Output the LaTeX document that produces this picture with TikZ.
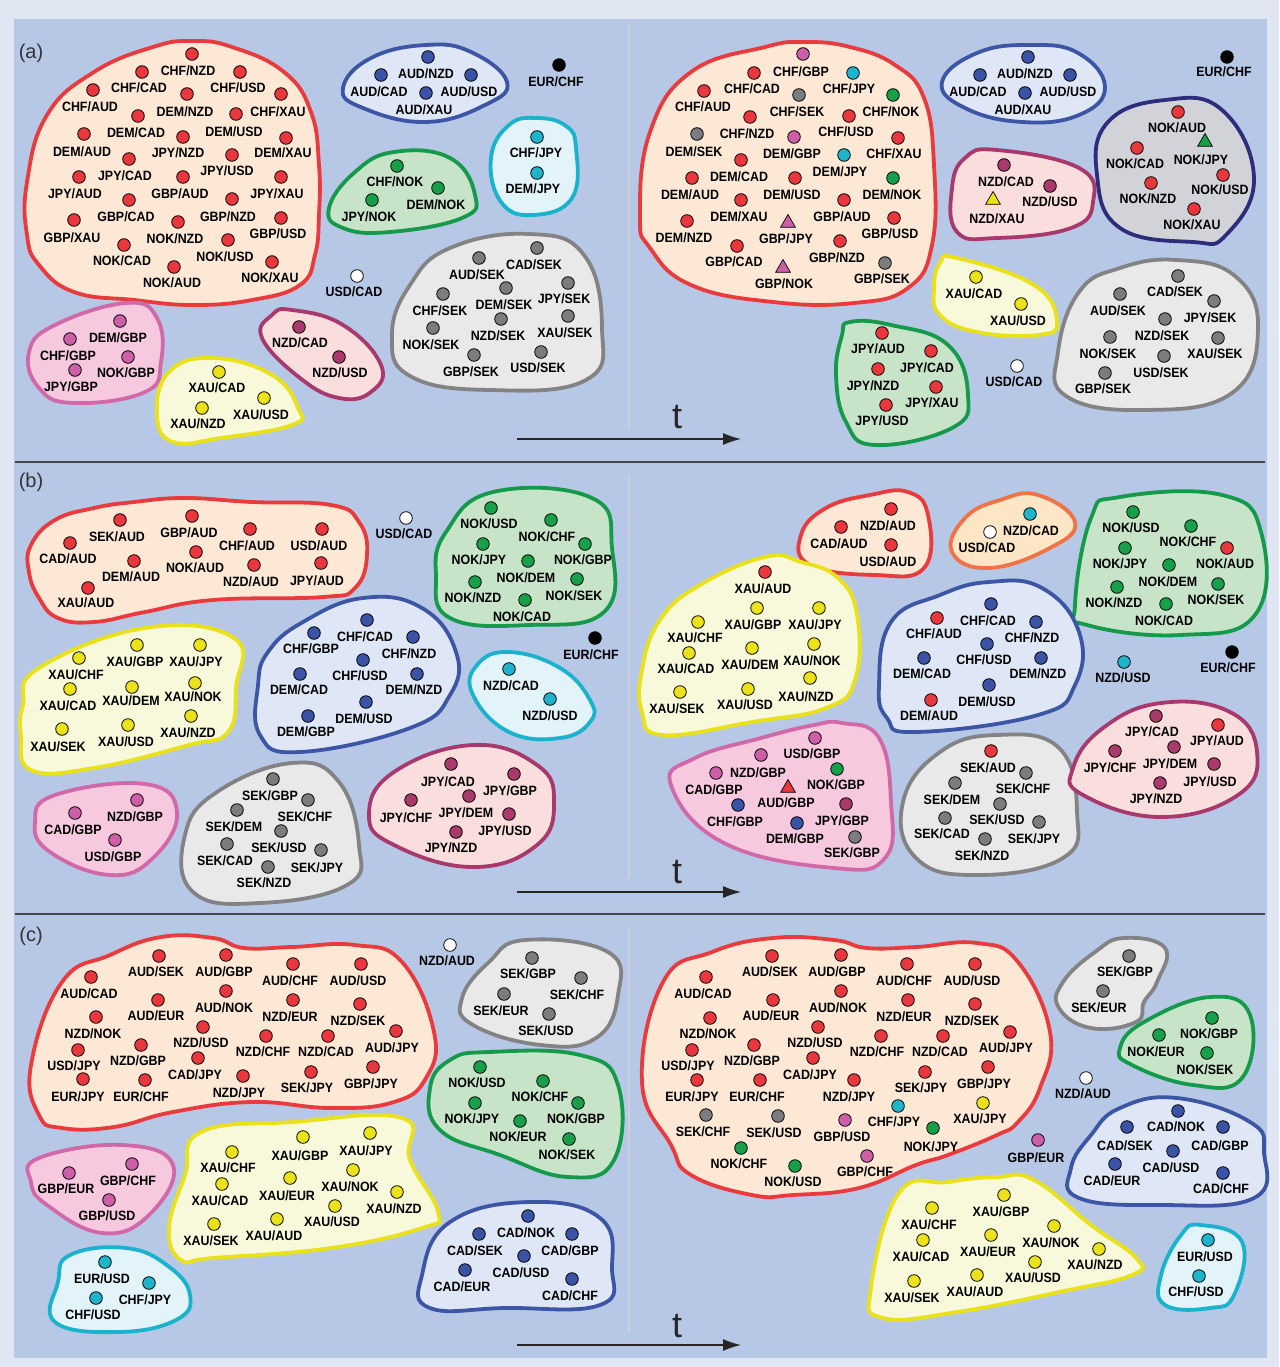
\documentclass[tikz,border=0pt]{standalone}
\usepackage{fontspec}
\setmainfont{Liberation Sans}
\newfontfamily\labfont[FakeStretch=0.92]{Liberation Sans}
\usetikzlibrary{shapes.geometric,arrows.meta}
\definecolor{cR}{HTML}{E8383D}
\definecolor{cB}{HTML}{3A53A4}
\definecolor{cC}{HTML}{1EB4CC}
\definecolor{cG}{HTML}{17A049}
\definecolor{cK}{HTML}{7B7C7E}
\definecolor{cP}{HTML}{CC5FA8}
\definecolor{cM}{HTML}{A83A6C}
\definecolor{cY}{HTML}{ECE21C}
\definecolor{sR}{HTML}{E93A3D}\definecolor{fR}{HTML}{FDE8D6}
\definecolor{sB}{HTML}{3D55A5}\definecolor{fB}{HTML}{DFE7F6}
\definecolor{sC}{HTML}{1AB2CC}\definecolor{fC}{HTML}{E2F3F9}
\definecolor{sG}{HTML}{15994A}\definecolor{fG}{HTML}{C7E4C9}
\definecolor{sK}{HTML}{838385}\definecolor{fK}{HTML}{E9E9E9}
\definecolor{sP}{HTML}{D169A9}\definecolor{fP}{HTML}{F7C9DF}
\definecolor{sY}{HTML}{E9E21A}\definecolor{fY}{HTML}{F8F8DA}
\definecolor{sM}{HTML}{A7396C}\definecolor{fM}{HTML}{FADEDE}
\definecolor{sN}{HTML}{2E2D7B}\definecolor{fN}{HTML}{D2D3D8}
\definecolor{sO}{HTML}{F07345}\definecolor{fO}{HTML}{FDE6C6}
\definecolor{bgblue}{HTML}{B7C8E7}
\definecolor{bgout}{HTML}{E0E7F3}
\definecolor{sepc}{HTML}{45454F}
\definecolor{vlc}{HTML}{CDD2DA}
\newcounter{nd}
\tikzset{
 pdot/.style={circle,draw=black,line width=0.8pt,minimum size=12.6pt,inner sep=0pt},
 ptri/.style={regular polygon,regular polygon sides=3,draw=black,line width=0.7pt,minimum size=17pt,inner sep=0pt},
 plab/.style={font=\labfont\bfseries\fontsize{13.5}{14}\selectfont,inner sep=0pt,text=black},
 blob/.style 2 args={draw=#1,fill=#2,line width=3.8pt},
 panel/.style={font=\fontsize{20}{22}\selectfont,text=black!80,inner sep=0pt},
 tlab/.style={font=\fontsize{36}{38}\selectfont,text=black!85,inner sep=0pt},
 tarrow/.style={draw=black!85,line width=1.3pt,-{Latex[length=18pt,width=12pt]}},
 sepline/.style={draw=sepc,line width=1.6pt},
 vline/.style={draw=vlc,line width=1.8pt},
}
\newcommand\blobat[3]{\draw[blob={#1}{#2}] plot[smooth cycle,tension=0.75] coordinates {#3};}
\newcommand\dotlist[2]{\foreach \xx/\yy in {#2}{\stepcounter{nd}\node[pdot,fill=#1] (n\arabic{nd}) at (\xx,\yy) {};}}
\newcommand\lablist[1]{\foreach \xx/\yy/\aa/\bb in {#1}{\stepcounter{nd}\node[plab] (n\arabic{nd}) at (\xx,\yy) {\aa/\bb};}}
\newcommand\triat[2]{\stepcounter{nd}\node[ptri,fill=#1] (n\arabic{nd}) at (#2) {};}
\begin{document}
\begin{tikzpicture}[x=1pt,y=-1pt]
\useasboundingbox (0,0) rectangle (1279,1367);
\fill[bgout] (0,0) rectangle (1279,1367);
\fill[bgblue] (14,19) rectangle (1267,1358);
% separators and vertical lines
\coordinate (s1a) at (15,462); \coordinate (s1b) at (1265,462);
\coordinate (s2a) at (15,914); \coordinate (s2b) at (1265,914);
\draw[sepline] (s1a) -- (s1b);
\draw[sepline] (s2a) -- (s2b);
\coordinate (v1a) at (629,23); \coordinate (v1b) at (629,427);
\coordinate (v2a) at (629,477); \coordinate (v2b) at (629,878);
\coordinate (v3a) at (629,928); \coordinate (v3b) at (629,1332);
\draw[vline] (v1a) -- (v1b);
\draw[vline] (v2a) -- (v2b);
\draw[vline] (v3a) -- (v3b);
\node[panel] (pa) at (31,53) {(a)};
\node[panel] (pb) at (31,482) {(b)};
\node[panel] (pc) at (31,936) {(c)};
% time arrows
\node[tlab] (ta) at (677,417) {t};
\coordinate (ta0) at (517,439); \coordinate (ta1) at (741,439);
\draw[tarrow] (ta0) -- (ta1);
\node[tlab] (tb) at (677,872) {t};
\coordinate (tb0) at (517,892); \coordinate (tb1) at (741,892);
\draw[tarrow] (tb0) -- (tb1);
\node[tlab] (tc) at (677,1326) {t};
\coordinate (tc0) at (517,1345); \coordinate (tc1) at (741,1345);
\draw[tarrow] (tc0) -- (tc1);

%%%%%%%%%%%%%%%% PANEL (a) LEFT
\blobat{sR}{fR}{(27,182) (47,115) (94,72) (153,47) (192,41) (232,47) (284,72) (311,112) (319,165) (319,215) (315,255) (300,285) (252,300) (193,305) (134,300) (74,292) (39,265) (27,235)}
\blobat{sB}{fB}{(426,45) (471,52) (507,82) (485,105) (426,122) (363,108) (343,88) (371,58)}
\blobat{sC}{fC}{(537,118) (566,126) (576,148) (572,198) (533,215) (501,202) (491,158) (509,125)}
\blobat{sG}{fG}{(394,152) (450,158) (475,195) (462,218) (390,232) (343,228) (329,208) (355,172)}
\blobat{sK}{fK}{(450,248) (529,234) (584,255) (602,328) (586,380) (489,390) (410,376) (392,335) (410,285)}
\blobat{sP}{fP}{(126,303) (157,318) (161,362) (145,392) (74,403) (39,388) (29,352) (55,325)}
\blobat{sY}{fY}{(213,358) (272,375) (298,408) (292,425) (221,438) (173,442) (157,415) (169,372)}
\blobat{sM}{fM}{(292,310) (343,325) (381,365) (371,392) (339,398) (300,378) (262,338) (272,315)}
\dotlist{cR}{192/54,142/72,240/72,93/90,187/94,281/94,138/116,236/114,84/134,183/137,286/138,129/159,232/155,79/177,183/177,281/177,129/200,232/199,74/220,178/222,281/218,124/245,228/240,174/267,272/262}
\lablist{188/71/CHF/NZD,139/88/CHF/CAD,238/88/CHF/USD,90/107/CHF/AUD,185/112/DEM/NZD,278/112/CHF/XAU,136/133/DEM/CAD,234/132/DEM/USD,82/152/DEM/AUD,178/153/JPY/NZD,283/153/DEM/XAU,125/176/JPY/CAD,227/171/JPY/USD,75/194/JPY/AUD,180/194/GBP/AUD,277/194/JPY/XAU,126/217/GBP/CAD,228/217/GBP/NZD,72/238/GBP/XAU,175/239/NOK/NZD,278/234/GBP/USD,122/261/NOK/CAD,225/257/NOK/USD,172/283/NOK/AUD,270/278/NOK/XAU}
\dotlist{cB}{428/57,381/75,471/75,426/93}
\lablist{426/74/AUD/NZD,379/92/AUD/CAD,469/92/AUD/USD,424/110/AUD/XAU}
\dotlist{black}{559/65}
\lablist{556/82/EUR/CHF}
\dotlist{cC}{537/137,537/173}
\lablist{536/153/CHF/JPY,533/189/DEM/JPY}
\dotlist{cG}{397/166,438/188,372/200}
\lablist{395/182/CHF/NOK,436/205/DEM/NOK,369/217/JPY/NOK}
\dotlist{cK}{479/258,537/248,568/283,443/294,506/288,568/316,433/328,501/319,474/355,541/352}
\lablist{477/275/AUD/SEK,534/265/CAD/SEK,504/305/DEM/SEK,564/299/JPY/SEK,440/311/CHF/SEK,498/336/NZD/SEK,565/333/XAU/SEK,431/345/NOK/SEK,471/372/GBP/SEK,538/368/USD/SEK}
\dotlist{white}{357/276}
\lablist{354/292/USD/CAD}
\dotlist{cP}{120/321,70/339,128/357,75/370}
\lablist{118/338/DEM/GBP,68/356/CHF/GBP,126/373/NOK/GBP,71/387/JPY/GBP}
\dotlist{cY}{219/372,264/398,202/408}
\lablist{217/388/XAU/CAD,261/415/XAU/USD,198/424/XAU/NZD}
\dotlist{cM}{299/327,339/357}
\lablist{300/343/NZD/CAD,340/373/NZD/USD}

%%%%%%%%%%%%%%%% PANEL (a) RIGHT
\blobat{sR}{fR}{(805,42) (850,47) (895,65) (924,98) (934,165) (932,245) (908,288) (854,303) (773,302) (691,285) (650,248) (640,215) (650,132) (691,72) (765,47)}
\blobat{sB}{fB}{(1030,45) (1078,53) (1105,87) (1079,115) (1022,122) (965,108) (942,82) (977,53)}
\blobat{sM}{fM}{(997,150) (1079,168) (1093,202) (1071,228) (997,238) (957,232) (952,188) (965,158)}
\blobat{sN}{fN}{(1165,100) (1222,110) (1254,178) (1226,235) (1193,242) (1120,228) (1097,175) (1108,122)}
\blobat{sY}{fY}{(957,258) (1034,285) (1057,322) (1038,335) (977,332) (940,315) (934,288) (940,263)}
\blobat{sK}{fK}{(1177,260) (1235,276) (1258,328) (1232,393) (1144,410) (1066,396) (1058,352) (1079,292) (1120,268)}
\blobat{sG}{fG}{(850,322) (891,325) (948,345) (968,395) (952,428) (875,445) (846,422) (836,375) (842,335)}
\dotlist{cR}{754/73,704/91,750/117,849/116,898/138,741/160,692/178,795/178,741/200,844/200,687/221,894/218,737/246,840/241}
\dotlist{cP}{803/54,794/137}
\dotlist{cC}{853/73,844/155}
\dotlist{cK}{799/95,697/134,885/263}
\dotlist{cG}{893/95,893/178}
\triat{cP}{788,223}
\triat{cP}{783,268}
\lablist{801/72/CHF/GBP,752/89/CHF/CAD,849/89/CHF/JPY,703/107/CHF/AUD,797/112/CHF/SEK,891/112/CHF/NOK,747/134/CHF/NZD,846/132/CHF/USD,694/152/DEM/SEK,792/154/DEM/GBP,894/154/CHF/XAU,739/177/DEM/CAD,840/172/DEM/JPY,690/195/DEM/AUD,792/195/DEM/USD,892/195/DEM/NOK,739/217/DEM/XAU,842/217/GBP/AUD,684/238/DEM/NZD,786/239/GBP/JPY,890/234/GBP/USD,734/262/GBP/CAD,837/258/GBP/NZD,784/284/GBP/NOK,882/279/GBP/SEK}
\dotlist{cB}{1028/57,980/75,1070/75,1025/93}
\lablist{1025/74/AUD/NZD,978/92/AUD/CAD,1068/92/AUD/USD,1023/110/AUD/XAU}
\dotlist{black}{1227/57}
\lablist{1224/72/EUR/CHF}
\dotlist{cM}{1004/165,1050/186}
\triat{cY}{993,200}
\lablist{1006/182/NZD/CAD,1050/202/NZD/USD,997/219/NZD/XAU}
\dotlist{cR}{1178/112,1137/148,1223/175,1151/183,1194/209}
\triat{cG}{1205,142}
\lablist{1177/128/NOK/AUD,1135/164/NOK/CAD,1201/160/NOK/JPY,1220/190/NOK/USD,1148/199/NOK/NZD,1192/225/NOK/XAU}
\dotlist{cY}{976/277,1021/304}
\lablist{974/294/XAU/CAD,1018/321/XAU/USD}
\dotlist{cK}{1178/276,1120/294,1214/301,1165/319,1110/337,1218/338,1164/356,1105/373}
\lablist{1175/292/CAD/SEK,1118/311/AUD/SEK,1210/318/JPY/SEK,1162/336/NZD/SEK,1108/354/NOK/SEK,1215/354/XAU/SEK,1161/373/USD/SEK,1103/389/GBP/SEK}
\dotlist{cR}{882/333,931/351,878/369,936/387,886/405}
\lablist{878/349/JPY/AUD,927/368/JPY/CAD,873/386/JPY/NZD,932/403/JPY/XAU,882/421/JPY/USD}
\dotlist{white}{1017/366}
\lablist{1014/382/USD/CAD}

%%%%%%%%%%%%%%%% PANEL (b) LEFT
\blobat{sR}{fR}{(31,545) (55,520) (94,508) (134,502) (185,498) (252,502) (331,505) (359,522) (367,555) (355,588) (323,597) (213,600) (145,612) (94,622) (58,618) (39,598) (29,572)}
\blobat{sG}{fG}{(493,492) (592,498) (612,548) (604,612) (529,625) (450,618) (436,575) (446,532)}
\blobat{sB}{fB}{(363,598) (422,608) (456,652) (450,695) (410,728) (300,752) (260,735) (258,685) (268,652) (303,622)}
\blobat{sC}{fC}{(509,652) (560,668) (590,700) (590,722) (560,738) (509,732) (473,695) (477,665)}
\blobat{sY}{fY}{(39,668) (145,628) (234,638) (236,688) (228,732) (189,745) (94,768) (31,770) (21,735) (23,705)}
\blobat{sP}{fP}{(55,795) (145,784) (177,812) (153,858) (110,875) (50,852) (35,822)}
\blobat{sK}{fK}{(292,763) (339,782) (359,845) (347,885) (260,903) (193,892) (185,835) (217,792)}
\blobat{sM}{fM}{(473,745) (537,765) (554,802) (537,845) (473,867) (394,845) (369,815) (394,772)}
\dotlist{cR}{120/520,192/516,250/529,322/529,70/543,134/561,196/552,254/565,321/563,88/588}
\lablist{117/537/SEK/AUD,189/533/GBP/AUD,247/546/CHF/AUD,319/546/USD/AUD,68/559/CAD/AUD,131/577/DEM/AUD,195/568/NOK/AUD,251/582/NZD/AUD,317/581/JPY/AUD,86/603/XAU/AUD}
\dotlist{white}{406/518}
\lablist{404/534/USD/CAD}
\dotlist{cG}{491/508,551/520,483/544,585/544,528/561,475/582,577/579,525/600}
\lablist{489/524/NOK/USD,547/537/NOK/CHF,479/560/NOK/JPY,583/560/NOK/GBP,526/578/NOK/DEM,473/598/NOK/NZD,574/596/NOK/SEK,522/617/NOK/CAD}
\dotlist{black}{595/638}
\lablist{591/655/EUR/CHF}
\dotlist{cB}{367/620,314/633,413/637,363/660,300/674,417/674,366/702,308/716}
\lablist{365/637/CHF/CAD,311/649/CHF/GBP,409/654/CHF/NZD,360/676/CHF/USD,299/690/DEM/CAD,414/690/DEM/NZD,364/719/DEM/USD,306/732/DEM/GBP}
\dotlist{cC}{509/669,550/699}
\lablist{511/686/NZD/CAD,550/716/NZD/USD}
\dotlist{cY}{137/645,200/645,79/658,70/689,132/687,195/683,62/729,128/725,191/716}
\lablist{135/662/XAU/GBP,196/662/XAU/JPY,76/675/XAU/CHF,68/706/XAU/CAD,131/701/XAU/DEM,193/697/XAU/NOK,58/747/XAU/SEK,126/742/XAU/USD,188/733/XAU/NZD}
\dotlist{cP}{137/800,75/813,115/840}
\lablist{135/817/NZD/GBP,73/830/CAD/GBP,113/857/USD/GBP}
\dotlist{cK}{273/779,308/800,237/810,281/831,227/844,321/850,268/867}
\lablist{270/796/SEK/GBP,305/817/SEK/CHF,234/827/SEK/DEM,279/848/SEK/USD,225/861/SEK/CAD,317/868/SEK/JPY,264/883/SEK/NZD}
\dotlist{cM}{451/764,514/774,469/796,411/800,509/814,456/832}
\lablist{448/782/JPY/CAD,510/791/JPY/GBP,466/813/JPY/DEM,406/818/JPY/CHF,505/831/JPY/USD,451/848/JPY/NZD}

%%%%%%%%%%%%%%%% PANEL (b) RIGHT
\blobat{sR}{fR}{(908,492) (928,515) (924,568) (875,575) (810,565) (801,535) (826,508) (870,495)}
\blobat{sO}{fO}{(1038,495) (1075,522) (1050,548) (989,568) (952,552) (965,518) (1000,500)}
\blobat{sG}{fG}{(1120,497) (1222,495) (1261,532) (1255,615) (1181,635) (1087,625) (1075,605) (1091,518)}
\blobat{sY}{fY}{(765,557) (801,562) (838,578) (857,615) (855,680) (826,708) (752,722) (663,735) (642,712) (642,670) (660,620) (700,585)}
\blobat{sB}{fB}{(989,582) (1042,588) (1079,632) (1075,685) (1038,715) (916,732) (887,718) (879,685) (891,622) (940,595)}
\blobat{sP}{fP}{(814,725) (842,723) (879,738) (891,802) (885,858) (834,868) (724,843) (671,785) (695,758) (761,738)}
\blobat{sK}{fK}{(997,735) (1059,748) (1077,812) (1063,858) (977,875) (916,858) (903,802) (940,752)}
\blobat{sM}{fM}{(1161,703) (1230,712) (1257,752) (1238,795) (1161,817) (1083,795) (1073,768) (1103,728)}
\dotlist{cR}{891/509,841/527,891/545}
\lablist{888/526/NZD/AUD,839/544/CAD/AUD,888/562/USD/AUD}
\dotlist{cC}{1030/514}
\dotlist{white}{990/532}
\lablist{1031/531/NZD/CAD,987/548/USD/CAD}
\dotlist{cG}{1133/512,1191/526,1125/548,1169/565,1117/587,1218/584,1166/604}
\dotlist{cR}{1227/548}
\lablist{1131/528/NOK/USD,1188/542/NOK/CHF,1120/564/NOK/JPY,1225/564/NOK/AUD,1168/582/NOK/DEM,1114/603/NOK/NZD,1216/600/NOK/SEK,1164/621/NOK/CAD}
\dotlist{cC}{1124/662}
\lablist{1123/678/NZD/USD}
\dotlist{black}{1232/652}
\lablist{1228/668/EUR/CHF}
\dotlist{cR}{765/572}
\dotlist{cY}{757/608,819/608,698/622,752/648,814/644,689/653,810/678,680/692,748/689}
\lablist{763/589/XAU/AUD,753/625/XAU/GBP,815/625/XAU/JPY,695/638/XAU/CHF,686/669/XAU/CAD,750/665/XAU/DEM,812/661/XAU/NOK,677/709/XAU/SEK,745/705/XAU/USD,806/697/XAU/NZD}
\dotlist{cB}{991/604,1036/622,987/644,924/658,1041/658,989/685}
\dotlist{cR}{937/618,931/700}
\lablist{988/621/CHF/CAD,934/634/CHF/AUD,1032/638/CHF/NZD,984/660/CHF/USD,922/674/DEM/CAD,1038/674/DEM/NZD,987/702/DEM/USD,929/716/DEM/AUD}
\dotlist{cP}{815/738,761/755,716/773}
\dotlist{cG}{837/769}
\triat{cR}{788,788}
\dotlist{cB}{738/805,797/823}
\dotlist{cM}{846/804}
\dotlist{cK}{855/837}
\lablist{812/754/USD/GBP,758/773/NZD/GBP,836/785/NOK/GBP,714/790/CAD/GBP,786/803/AUD/GBP,735/822/CHF/GBP,842/821/JPY/GBP,795/839/DEM/GBP,852/853/SEK/GBP}
\dotlist{cR}{991/751}
\dotlist{cK}{1026/773,955/783,1000/804,945/818,1039/822,985/839}
\lablist{988/768/SEK/AUD,1023/789/SEK/CHF,952/800/SEK/DEM,997/820/SEK/USD,942/834/SEK/CAD,1034/839/SEK/JPY,982/856/SEK/NZD}
\dotlist{cM}{1156/716,1115/751,1174/747,1214/764,1160/783}
\dotlist{cR}{1218/725}
\lablist{1152/732/JPY/CAD,1217/741/JPY/AUD,1110/768/JPY/CHF,1170/764/JPY/DEM,1210/782/JPY/USD,1156/799/JPY/NZD}

%%%%%%%%%%%%%%%% PANEL (c) LEFT
\blobat{sR}{fR}{(62,982) (110,955) (161,937) (213,938) (244,948) (292,947) (355,945) (402,962) (434,1032) (426,1078) (394,1102) (331,1108) (252,1102) (173,1112) (114,1127) (62,1128) (39,1115) (31,1065)}
\blobat{sK}{fK}{(525,940) (608,952) (618,995) (596,1038) (541,1045) (473,1025) (462,998) (489,962)}
\blobat{sG}{fG}{(489,1052) (580,1055) (618,1085) (614,1160) (568,1177) (500,1155) (440,1130) (430,1088) (450,1060)}
\blobat{sP}{fP}{(39,1158) (122,1145) (173,1165) (149,1215) (102,1233) (47,1205) (31,1182)}
\blobat{sC}{fC}{(70,1255) (126,1248) (168,1266) (190,1295) (176,1320) (118,1332) (55,1322) (58,1282)}
\blobat{sY}{fY}{(201,1132) (292,1122) (402,1118) (410,1160) (438,1212) (422,1228) (331,1248) (213,1258) (181,1260) (169,1228) (185,1175)}
\blobat{sB}{fB}{(529,1202) (600,1218) (612,1268) (600,1305) (505,1308) (430,1308) (422,1275) (450,1222)}
\dotlist{cR}{159/956,226/955,293/964,361/964,91/977,158/1000,226/991,293/1000,360/1004,96/1017,203/1027,266/1036,328/1036,396/1031,141/1045,78/1050,198/1058,311/1072,373/1067,83/1079,145/1080,243/1076}
\lablist{156/972/AUD/SEK,224/972/AUD/GBP,290/981/AUD/CHF,358/981/AUD/USD,89/994/AUD/CAD,156/1016/AUD/EUR,224/1008/AUD/NOK,290/1017/NZD/EUR,358/1021/NZD/SEK,93/1034/NZD/NOK,201/1043/NZD/USD,263/1052/NZD/CHF,326/1052/NZD/CAD,392/1048/AUD/JPY,138/1061/NZD/GBP,74/1066/USD/JPY,195/1075/CAD/JPY,307/1088/SEK/JPY,371/1084/GBP/JPY,239/1093/NZD/JPY,78/1097/EUR/JPY,141/1097/EUR/CHF}
\dotlist{white}{450/945}
\lablist{447/961/NZD/AUD}
\dotlist{cK}{532/958,581/978,504/994,549/1014}
\lablist{528/974/SEK/GBP,577/995/SEK/CHF,501/1011/SEK/EUR,546/1031/SEK/USD}
\dotlist{cG}{480/1067,543/1081,475/1103,578/1103,520/1121,569/1139}
\lablist{477/1083/NOK/USD,540/1097/NOK/CHF,472/1119/NOK/JPY,576/1119/NOK/GBP,518/1137/NOK/EUR,567/1155/NOK/SEK}
\dotlist{cP}{69/1173,132/1164,109/1200}
\lablist{66/1189/GBP/EUR,128/1181/GBP/CHF,107/1216/GBP/USD}
\dotlist{cC}{105/1262,149/1283,96/1298}
\lablist{102/1279/EUR/USD,145/1300/CHF/JPY,93/1315/CHF/USD}
\dotlist{cY}{303/1137,370/1133,232/1152,353/1170,222/1184,290/1178,397/1192,335/1206,214/1224,277/1219}
\lablist{300/1156/XAU/GBP,366/1151/XAU/JPY,228/1168/XAU/CHF,350/1187/XAU/NOK,220/1201/XAU/CAD,287/1196/XAU/EUR,394/1209/XAU/NZD,332/1222/XAU/USD,211/1241/XAU/SEK,274/1236/XAU/AUD}
\dotlist{cB}{528/1216,479/1234,572/1234,524/1256,465/1270,572/1279}
\lablist{526/1233/CAD/NOK,475/1251/CAD/SEK,570/1251/CAD/GBP,521/1273/CAD/USD,462/1287/CAD/EUR,570/1296/CAD/CHF}

%%%%%%%%%%%%%%%% PANEL (c) RIGHT
\blobat{sR}{fR}{(773,938) (834,940) (867,948) (916,947) (977,943) (1018,962) (1050,1032) (1040,1088) (1018,1122) (997,1135) (948,1155) (916,1165) (859,1188) (793,1195) (752,1195) (691,1175) (671,1145) (642,1082) (663,982) (712,952)}
\blobat{sK}{fK}{(1124,938) (1165,948) (1157,982) (1144,1002) (1136,1022) (1091,1028) (1059,1008) (1063,982) (1095,952)}
\blobat{sG}{fG}{(1210,997) (1250,1015) (1242,1078) (1193,1085) (1132,1065) (1120,1048) (1144,1022)}
\blobat{sB}{fB}{(1177,1098) (1250,1122) (1264,1152) (1254,1198) (1161,1205) (1079,1198) (1071,1168) (1091,1135) (1120,1108)}
\blobat{sY}{fY}{(997,1177) (1034,1180) (1091,1225) (1136,1258) (1132,1275) (1059,1292) (957,1312) (883,1318) (871,1288) (899,1193) (948,1182)}
\blobat{sC}{fC}{(1201,1225) (1242,1242) (1234,1295) (1210,1308) (1165,1305) (1161,1275) (1181,1235)}
\dotlist{cR}{772/956,841/955,907/964,975/964,706/977,773/1000,841/991,908/1000,975/1004,710/1018,818/1027,881/1036,943/1036,1010/1032,754/1045,692/1050,813/1058,925/1072,988/1067,697/1080,760/1080,854/1080}
\dotlist{cK}{706/1115,778/1116}
\dotlist{cP}{845/1120,867/1156}
\dotlist{cC}{898/1106}
\dotlist{cY}{983/1103}
\dotlist{cG}{933/1128,741/1148,795/1166}
\lablist{770/972/AUD/SEK,837/972/AUD/GBP,904/981/AUD/CHF,972/981/AUD/USD,703/994/AUD/CAD,771/1016/AUD/EUR,838/1008/AUD/NOK,904/1017/NZD/EUR,972/1021/NZD/SEK,708/1034/NZD/NOK,815/1043/NZD/USD,877/1052/NZD/CHF,940/1052/NZD/CAD,1006/1048/AUD/JPY,752/1061/NZD/GBP,688/1066/USD/JPY,810/1075/CAD/JPY,921/1088/SEK/JPY,984/1084/GBP/JPY,849/1097/NZD/JPY,692/1097/EUR/JPY,757/1097/EUR/CHF,703/1132/SEK/CHF,774/1133/SEK/USD,842/1137/GBP/USD,894/1122/CHF/JPY,980/1119/XAU/JPY,931/1147/NOK/JPY,739/1164/NOK/CHF,793/1182/NOK/USD,865/1172/GBP/CHF}
\dotlist{cK}{1129/956,1103/991}
\lablist{1125/972/SEK/GBP,1099/1008/SEK/EUR}
\dotlist{cG}{1212/1018,1159/1035,1207/1053}
\lablist{1209/1034/NOK/GBP,1156/1052/NOK/EUR,1205/1070/NOK/SEK}
\dotlist{white}{1086/1078}
\lablist{1083/1094/NZD/AUD}
\dotlist{cP}{1038/1140}
\lablist{1036/1158/GBP/EUR}
\dotlist{cB}{1178/1111,1127/1127,1223/1127,1173/1151,1115/1164,1223/1173}
\lablist{1176/1127/CAD/NOK,1125/1146/CAD/SEK,1220/1146/CAD/GBP,1171/1168/CAD/USD,1112/1181/CAD/EUR,1221/1189/CAD/CHF}
\dotlist{cY}{1004/1195,932/1208,1054/1226,991/1235,923/1240,1099/1249,1035/1262,977/1275,914/1281}
\lablist{1001/1212/XAU/GBP,929/1225/XAU/CHF,1051/1243/XAU/NOK,921/1257/XAU/CAD,988/1252/XAU/EUR,1095/1265/XAU/NZD,1033/1278/XAU/USD,975/1292/XAU/AUD,912/1298/XAU/SEK}
\dotlist{cC}{1208/1240,1199/1276}
\lablist{1205/1257/EUR/USD,1196/1292/CHF/USD}
\end{tikzpicture}
\end{document}
